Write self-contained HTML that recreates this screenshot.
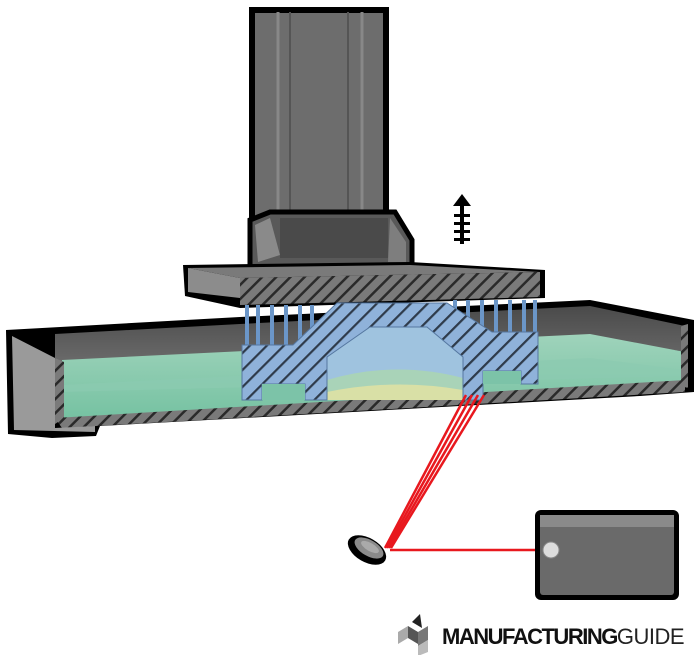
<!DOCTYPE html>
<html><head><style>
html,body{margin:0;padding:0;background:#fff;width:700px;height:655px;overflow:hidden}
</style></head><body>
<svg width="700" height="655" viewBox="0 0 700 655" xmlns="http://www.w3.org/2000/svg">
<defs>
<pattern id="h" width="12" height="12" patternUnits="userSpaceOnUse" patternTransform="rotate(45)">
<rect width="12" height="12" fill="#8fb2da"/><rect width="2.2" height="12" fill="#2e3a4a"/></pattern>
<pattern id="hg" width="10" height="10" patternUnits="userSpaceOnUse" patternTransform="rotate(45)">
<rect width="10" height="10" fill="#7a7a7a"/><rect width="2.5" height="10" fill="#2a2a2a"/></pattern>
<linearGradient id="liq" x1="0" y1="0" x2="0" y2="1"><stop offset="0" stop-color="#9fd3bb"/><stop offset="1" stop-color="#76c2a2"/></linearGradient>
<linearGradient id="wall" x1="0" y1="0" x2="0" y2="1"><stop offset="0" stop-color="#4a4a4a"/><stop offset="1" stop-color="#6a6a6a"/></linearGradient>
</defs>
<!-- column -->
<rect x="252" y="10" width="134" height="240" fill="#6d6d6d" stroke="#000" stroke-width="6"/>
<line x1="278" y1="12" x2="278" y2="240" stroke="#888" stroke-width="3"/>
<line x1="290" y1="12" x2="290" y2="240" stroke="#555" stroke-width="2"/>
<line x1="348" y1="12" x2="348" y2="240" stroke="#555" stroke-width="2"/>
<line x1="362" y1="12" x2="362" y2="240" stroke="#888" stroke-width="3"/>
<!-- bracket -->
<polygon points="250,220 270,212 395,212 412,240 412,268 250,268" fill="#595959" stroke="#000" stroke-width="5"/>
<polygon points="255,225 270,218 280,255 258,262" fill="#8a8a8a"/>
<polygon points="390,218 406,242 406,262 388,262" fill="#7e7e7e"/>
<rect x="280" y="218" width="108" height="40" fill="#4a4a4a"/>
<!-- arrow -->
<g fill="#000"><polygon points="462,194 471,206 453,206"/><rect x="460" y="204" width="4" height="40"/>
<rect x="454" y="214" width="16" height="3"/><rect x="454" y="222" width="16" height="3"/><rect x="454" y="230" width="16" height="3"/><rect x="454" y="238" width="16" height="3"/></g>
<!-- tank -->
<polygon points="6,330 240,317 590,300 694,320 694,392 640,396 100,426 96,436 52,438 8,434" fill="#000"/>
<polygon points="55,334 240,324 590,306 685,326 685,352 590,336 55,362" fill="url(#wall)"/>
<polygon points="62,360 590,334 685,352 685,382 62,418" fill="url(#liq)"/>
<polygon points="62,385 590,358 685,370 685,376 62,392" fill="#8ccab0" opacity="0.7"/>
<polygon points="55,418 685,380 685,392 62,428" fill="url(#hg)"/>
<polygon points="12,336 55,358 55,428 95,426 95,432 14,430" fill="#9a9a9a"/>
<polygon points="55,358 64,362 64,418 55,424" fill="url(#hg)"/>
<polygon points="681,326 688,324 688,388 681,386" fill="url(#hg)"/>
<!-- platform -->
<polygon points="183,265 410,262 545,270 545,298 240,308 185,296" fill="#000"/>
<polygon points="188,268 240,278 240,298 188,292" fill="#8c8c8c"/>
<polygon points="188,268 410,265 540,272 240,278" fill="#7a7a7a"/>
<polygon points="240,278 540,272 540,297 240,305" fill="url(#hg)"/>
<!-- supports -->
<g stroke="#6b96c8" stroke-width="4">
<line x1="247" y1="305" x2="247" y2="345"/><line x1="258" y1="305" x2="258" y2="345"/><line x1="272" y1="305" x2="272" y2="345"/>
<line x1="286" y1="305" x2="286" y2="345"/><line x1="300" y1="305" x2="300" y2="340"/><line x1="312" y1="305" x2="312" y2="330"/>
<line x1="455" y1="300" x2="455" y2="315"/><line x1="468" y1="300" x2="468" y2="325"/><line x1="482" y1="300" x2="482" y2="332"/>
<line x1="496" y1="300" x2="496" y2="332"/><line x1="510" y1="300" x2="510" y2="332"/><line x1="524" y1="300" x2="524" y2="332"/><line x1="535" y1="300" x2="535" y2="332"/>
</g>
<!-- inner arch fill -->
<polygon points="327,357 370,327 427,327 463,357 463,400 327,400" fill="#9fc3df"/>
<path d="M327,380 Q395,360 463,378 L463,400 L327,400Z" fill="#a9d3b8"/>
<path d="M327,392 Q395,378 463,390 L463,400 L327,400Z" fill="#d9e0a6"/>
<!-- part -->
<path fill-rule="evenodd" d="M242,400 L242,345 L293,345 L337,303 L447,303 L492,332 L538,332 L538,384 L521,384 L521,371 L483,371 L483,400 L463,400 L463,357 L427,327 L370,327 L327,357 L327,400 L305,400 L305,384 L262,384 L262,400 Z" fill="url(#h)" stroke="#5577a0" stroke-width="1"/>
<rect x="262" y="384" width="43" height="16" fill="#7cc3a8"/>
<rect x="483" y="371" width="38" height="13" fill="#7cc3a8"/>
<!-- laser beams -->
<g stroke="#e8181e" stroke-width="2.5">
<line x1="466" y1="395" x2="385" y2="548"/><line x1="472" y1="395" x2="387" y2="548"/>
<line x1="478" y1="395" x2="389" y2="548"/><line x1="484" y1="395" x2="391" y2="548"/>
<line x1="390" y1="550" x2="548" y2="550"/></g>
<!-- mirror -->
<ellipse cx="367" cy="550" rx="21" ry="12" transform="rotate(30 367 550)" fill="#000"/>
<ellipse cx="369" cy="548" rx="16" ry="8" transform="rotate(30 369 548)" fill="#8a8a8a"/>
<ellipse cx="370" cy="547" rx="10" ry="4" transform="rotate(30 370 547)" fill="#aaa"/>
<!-- laser box -->
<rect x="535" y="510" width="144" height="90" rx="6" fill="#000"/>
<rect x="540" y="515" width="134" height="80" rx="3" fill="#6a6a6a"/>
<rect x="540" y="515" width="134" height="12" fill="#8a8a8a"/>
<circle cx="551" cy="550" r="8" fill="#ddd" stroke="#888"/>
<!-- logo -->
<g><polygon points="398,632 408,626 408,638 398,644" fill="#aaa"/><polygon points="408,626 418,632 418,644 408,638" fill="#555"/>
<polygon points="412,622 420,614 422,628" fill="#222"/><polygon points="418,632 428,626 428,640 418,646" fill="#777"/>
<polygon points="418,646 428,640 428,652 418,656" fill="#bbb"/></g>
<text x="442" y="644" font-family="Liberation Sans, sans-serif" font-weight="bold" font-size="22" fill="#111" letter-spacing="-1.5">MANUFACTURING<tspan font-weight="normal" fill="#222" letter-spacing="-0.5">GUIDE</tspan></text>
</svg>
</body></html>
